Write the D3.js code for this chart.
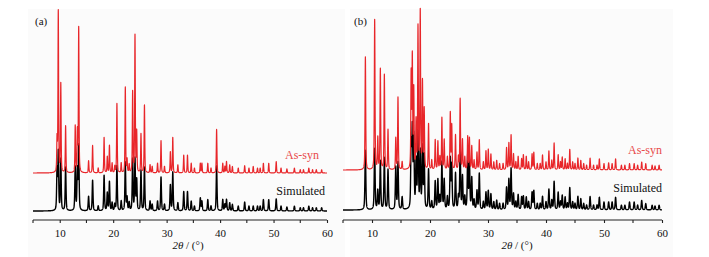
<!DOCTYPE html>
<html>
<head>
<meta charset="utf-8">
<script src="https://cdn.jsdelivr.net/npm/d3@7"></script>
<style>
  body { margin: 0; background: #fff; }
  svg text { font-family: "Liberation Serif", "Times New Roman", serif; }
</style>
</head>
<body>
<svg id="XrdSvg" width="709" height="257"></svg>
<script>
// x axis ticks (2theta, degrees)
var ticksX = [10, 20, 30, 40, 50, 60]
var minorX = [5, 15, 25, 35, 45, 55]

// panel (a): peak positions and relative intensities
var peaksA = [9.5, 9.73, 10.2, 11.1, 12.9, 13.3, 13.55, 15.4, 16.15, 17.2, 18.3, 18.9, 19.3, 19.8, 20.3, 20.7, 21.5, 22.27, 22.6, 23.0,
    23.64, 24.08, 24.4, 25.2, 25.85, 26.9, 27.3, 28.3, 28.95, 29.6, 30.7, 31.15, 32.1, 33.2, 33.9, 34.6, 35.2, 36.3, 36.6, 37.7,
    38.3, 39.35, 40.5, 40.9, 41.2, 41.8, 42.3, 43.4, 44.6, 45.4, 46.2, 47.0, 47.5, 48.1, 49.1, 50.5, 51.4, 52.5, 53.9, 55.0,
    55.6, 56.6, 57.3, 58.0, 59.0]
var asSynA = [20, 100, 55, 29, 29, 25, 90, 7.5, 17, 3, 22, 10, 17, 6, 4, 43, 6, 53, 8, 5,
    50, 85, 25, 24, 42, 5, 4, 6, 20, 4, 13, 22, 5, 11, 11, 6, 3, 6, 6, 6,
    3, 27, 6, 4, 7, 5, 4, 3, 4.5, 3, 4, 3, 3, 6, 6, 7, 3, 2.5, 3, 2,
    2, 3, 2, 2, 2]
var simA = [25, 36, 32, 27, 27, 25, 40, 9, 19, 3, 22, 11, 18, 5, 4, 28, 6, 30, 8, 5,
    32, 32, 19, 25, 27, 6, 4, 6, 21, 4, 16, 24, 5, 12, 12, 6, 3, 8, 6, 7,
    3, 28, 7, 4, 7, 5, 4, 3, 5.5, 3, 3, 3, 3, 7, 7, 7.5, 3, 2.5, 3, 2,
    2, 3, 2, 2, 2]

// panel (b)
var peaksB = [8.86, 10.46, 11.0, 11.44, 12.13, 12.76, 14.1, 14.48, 15.2, 16.75, 16.95, 17.2, 17.6, 17.93, 18.32, 18.7, 19.0, 19.75, 20.3, 20.9,
    21.36, 21.7, 22.05, 22.45, 23.0, 23.5, 23.75, 24.4, 24.9, 25.2, 25.6, 26.0, 26.5, 26.8, 27.2, 27.6, 28.1, 28.5, 29.2, 29.65,
    30.05, 30.5, 31.0, 31.5, 32.0, 32.6, 33.2, 33.6, 33.98, 34.4, 34.8, 35.2, 35.8, 36.1, 36.6, 37.0, 37.6, 37.9, 38.5, 39.0,
    39.4, 40.0, 40.5, 41.0, 41.4, 42.1, 42.5, 42.8, 43.3, 43.7, 44.1, 44.6, 45.0, 45.5, 46.0, 46.5, 47.0, 47.6, 48.2, 48.8,
    49.2, 50.0, 50.8, 51.4, 52.0, 53.0, 53.6, 54.4, 55.2, 55.8, 56.5, 57.2, 58.3, 58.8, 59.5]
var asSynB = [72, 95.5, 20, 64, 60.5, 25.5, 20, 46, 5, 60, 70, 50, 30, 90, 100, 55, 38, 29, 6, 19,
    18, 8, 33, 19, 8, 36, 28, 22, 8, 45, 19, 8, 21, 20, 15, 6, 11, 19, 5, 12,
    13, 10, 5, 6, 4, 4, 14, 17, 22, 10, 5, 8.5, 7, 9.5, 8.5, 5, 10, 11, 4, 4,
    9.5, 5, 12, 6, 17, 9.5, 5, 8, 7, 4, 13, 5, 4, 7.5, 6, 4, 3, 7.5, 3, 3,
    7, 4, 4.5, 4, 7, 3, 3, 4, 4, 3, 5, 4, 3, 2.5, 3]
var simB = [38, 39, 12, 31, 33, 25.5, 27, 30, 8, 40, 49, 45, 30, 60, 36, 39, 34, 25.5, 5, 18,
    19, 8, 30, 19, 8, 32, 28, 23, 8, 40, 21, 8, 34, 30, 20, 6, 12, 23, 5, 11,
    12, 10, 5, 6, 4, 4, 14, 19, 26, 10, 5, 9.5, 8, 8.5, 8, 5, 11, 12, 4, 4,
    8.5, 5, 13, 6, 18, 11, 5, 9, 8, 4, 14, 5, 4, 8.5, 7, 4, 3, 8.5, 3, 3,
    8, 5, 5, 5, 8, 3, 3, 5, 5, 3, 6, 4, 3, 2.5, 3]

var XrdSvg = d3.select("#XrdSvg")

var panels = [
    { tag: "(a)", bg: [28, 9, 317, 248], x0: 33, x1: 327, axisY: 220, simBase: 211, synBase: 173, k: 1.61,
      tagX: 35, synTxt: [319, 159], simTxt: [325, 195], titleX: 188,
      peaks: peaksA, syn: asSynA, sim: simA },
    { tag: "(b)", bg: [350, 9, 323, 248], x0: 343, x1: 662, axisY: 220, simBase: 210, synBase: 170, k: 1.57,
      tagX: 354, synTxt: [662, 154], simTxt: [662, 192], titleX: 517,
      peaks: peaksB, syn: asSynB, sim: simB }
]

// pseudo-Voigt profile summed over the peak list
function pattern(pos, amp, fwhm) {
    var pts = []
    var hw = fwhm / 2, sig = fwhm / 2.3548, eta = 0.5
    for (var t = 5; t <= 60.0001; t += 0.01) {
        var s = 0
        for (var j = 0; j < pos.length; j++) {
            var d = t - pos[j]
            if (Math.abs(d) > 4) continue
            var lor = 1 / (1 + (d / hw) * (d / hw))
            var gau = Math.exp(-d * d / (2 * sig * sig))
            s += amp[j] * (eta * lor + (1 - eta) * gau)
        }
        pts.push([t, s])
    }
    return pts
}

panels.forEach(function (p) {
    XrdSvg.append("rect")
        .attr("x", p.bg[0]).attr("y", p.bg[1])
        .attr("width", p.bg[2]).attr("height", p.bg[3])
        .attr("fill", "#fbfbfb")

    var xScale = d3.scaleLinear().domain([5, 60]).range([p.x0, p.x1])
    var ySim = d3.scaleLinear().domain([0, 100]).range([p.simBase, p.simBase - 100 * p.k])
    var ySyn = d3.scaleLinear().domain([0, 100]).range([p.synBase, p.synBase - 100 * p.k])

    var simLine = d3.line().x(d => xScale(d[0])).y(d => ySim(d[1]))
    var synLine = d3.line().x(d => xScale(d[0])).y(d => ySyn(d[1]))

    XrdSvg.append("path")
        .attr("d", simLine(pattern(p.peaks, p.sim, 0.18)))
        .attr("fill", "none")
        .attr("stroke", "#000")
        .attr("stroke-width", 1.4)
        .attr("stroke-linejoin", "round")

    XrdSvg.append("path")
        .attr("d", synLine(pattern(p.peaks, p.syn, 0.14)))
        .attr("fill", "none")
        .attr("stroke", "#e8262a")
        .attr("stroke-width", 1.2)
        .attr("stroke-linejoin", "round")

    // x axis
    var xAxis = d3.axisBottom(xScale).tickValues(ticksX).tickSize(3).tickSizeOuter(0)
        .tickFormat(d3.format("d"))
    var gAxis = XrdSvg.append("g")
        .attr("class", "axis")
        .attr("transform", `translate(0,${p.axisY})`)
        .call(xAxis)
    gAxis.attr("font-family", null)
    gAxis.select(".domain").attr("stroke", "#222").attr("stroke-width", 1.2)
        .attr("d", `M${p.x0},0H${p.x1}`)
    gAxis.selectAll(".tick line").attr("stroke", "#222").attr("stroke-width", 1.1)
    gAxis.selectAll(".tick text")
        .attr("y", 9)
        .attr("fill", "#111")
        .style("font-size", "11px")
    var gMinor = XrdSvg.append("g")
    gMinor.selectAll("line").data(minorX).enter().append("line")
        .attr("x1", d => xScale(d)).attr("x2", d => xScale(d))
        .attr("y1", p.axisY).attr("y2", p.axisY + 3)
        .attr("stroke", "#222").attr("stroke-width", 1.1)

    var title = XrdSvg.append("text")
        .attr("x", p.titleX).attr("y", 249)
        .attr("text-anchor", "middle")
        .attr("fill", "#111")
        .style("font-size", "11px")
    title.append("tspan").style("font-style", "italic").text("2θ")
    title.append("tspan").text(" / (°)")

    XrdSvg.append("text")
        .attr("x", p.tagX).attr("y", 25)
        .attr("fill", "#111")
        .style("font-size", "11px")
        .text(p.tag)

    XrdSvg.append("text")
        .attr("x", p.synTxt[0]).attr("y", p.synTxt[1])
        .attr("text-anchor", "end")
        .attr("fill", "#e84a4a")
        .style("font-size", "12px")
        .text("As-syn")

    XrdSvg.append("text")
        .attr("x", p.simTxt[0]).attr("y", p.simTxt[1])
        .attr("text-anchor", "end")
        .attr("fill", "#111")
        .style("font-size", "12px")
        .text("Simulated")
})
</script>
</body>
</html>
